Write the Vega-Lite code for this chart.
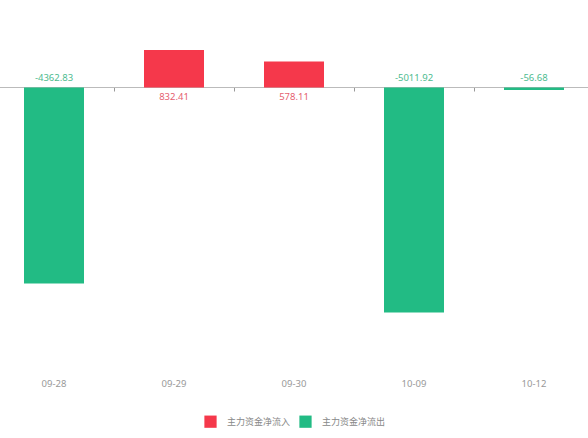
{
  "$schema": "https://vega.github.io/schema/vega-lite/v6.json",
  "description": "主力资金净流入/净流出 by day",
  "autosize": "none",
  "width": 600,
  "height": 355,
  "padding": {"left": -6, "top": 2, "right": 0, "bottom": 81},
  "background": "white",
  "data": {
    "values": [
      {"date": "09-28", "value": -4362.83, "label": "-4362.83", "type": "主力资金净流出"},
      {"date": "09-29", "value": 832.41, "label": "832.41", "type": "主力资金净流入"},
      {"date": "09-30", "value": 578.11, "label": "578.11", "type": "主力资金净流入"},
      {"date": "10-09", "value": -5011.92, "label": "-5011.92", "type": "主力资金净流出"},
      {"date": "10-12", "value": -56.68, "label": "-56.68", "type": "主力资金净流出"}
    ]
  },
  "encoding": {
    "x": {"field": "date", "type": "nominal", "sort": null, "scale": {"paddingInner": 0.5, "paddingOuter": 0.25}},
    "y": {"field": "value", "type": "quantitative", "scale": {"domain": [-6000, 1900], "nice": false}, "axis": null}
  },
  "layer": [
    {
      "mark": {"type": "bar"},
      "encoding": {
        "x": {"field": "date", "type": "nominal", "sort": null,
          "axis": {"orient": "bottom", "offset": -270, "labels": false, "title": null,
            "domainColor": "#bbbbbb", "tickColor": "#999999", "tickSize": 4, "bandPosition": -0.5, "grid": false}},
        "color": {"field": "type", "type": "nominal",
          "scale": {"domain": ["主力资金净流入", "主力资金净流出"], "range": ["#f5384b", "#22bb84"]},
          "legend": {"orient": "none", "legendX": 210, "legendY": 413, "direction": "horizontal", "title": null,
            "symbolType": "square", "symbolSize": 150, "symbolStrokeWidth": 0, "labelFontSize": 9, "labelColor": "#888888",
            "labelFont": "Noto Sans CJK SC", "columnPadding": 8, "labelOffset": 10}}
      }
    },
    {
      "transform": [{"filter": "datum.value < 0"}],
      "mark": {"type": "text", "dy": -9, "fontSize": 9.5, "color": "#4dbb8f", "font": "Noto Sans"},
      "encoding": {
        "x": {"field": "date", "type": "nominal", "sort": null,
          "axis": {"orient": "bottom", "domain": false, "ticks": false, "title": null, "labelAngle": 0,
            "labelPadding": 21, "labelFontSize": 9.5, "labelColor": "#999999", "labelFont": "Noto Sans"}},
        "y": {"datum": 0},
        "text": {"field": "label", "type": "nominal"}
      }
    },
    {
      "transform": [{"filter": "datum.value > 0"}],
      "mark": {"type": "text", "dy": 10, "fontSize": 9.5, "color": "#e5606f", "font": "Noto Sans"},
      "encoding": {
        "x": {"field": "date", "type": "nominal", "sort": null, "axis": null},
        "y": {"datum": 0},
        "text": {"field": "label", "type": "nominal"}
      }
    }
  ],
  "resolve": {"axis": {"x": "independent"}},
  "config": {"view": {"stroke": null}}
}
